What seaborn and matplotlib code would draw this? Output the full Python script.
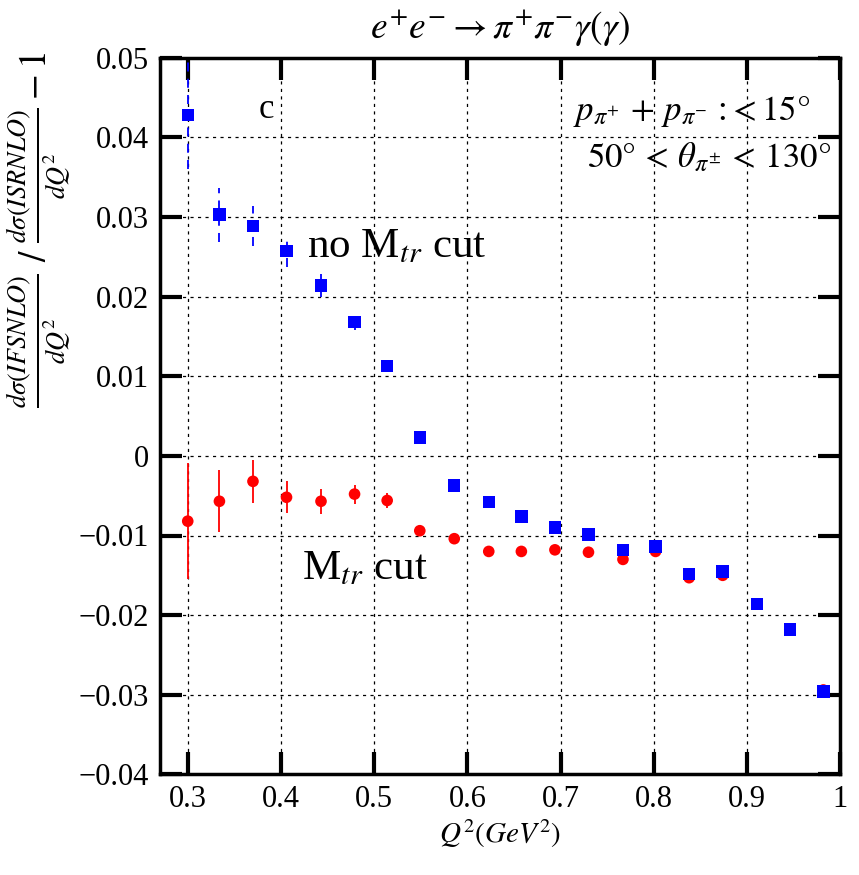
import numpy as np
import pandas as pd
import matplotlib
matplotlib.use("Agg")
import matplotlib.pyplot as plt
import seaborn as sns

# ---- data ----
q2 = [0.300, 0.334, 0.370, 0.406, 0.443, 0.479, 0.514, 0.549, 0.586, 0.623,
      0.658, 0.694, 0.730, 0.767, 0.802, 0.838, 0.874, 0.911, 0.946, 0.982]
nocut_val = [0.0428, 0.0303, 0.0289, 0.0257, 0.0214, 0.0168, 0.0113, 0.0023, -0.0037, -0.0058,
             -0.0076, -0.0090, -0.0099, -0.0118, -0.0114, -0.0148, -0.0145, -0.0186, -0.0218, -0.0296]
nocut_err = [0.0068, 0.0034, 0.0025, 0.0020, 0.0014, 0.0010, 0.0006, 0.0005, 0.0004, 0.0004,
             0.0004, 0.0004, 0.0004, 0.0005, 0.0005, 0.0005, 0.0006, 0.0005, 0.0005, 0.0004]
cut_val = [-0.0082, -0.0057, -0.0032, -0.0052, -0.0057, -0.0048, -0.0056, -0.0094, -0.0104, -0.0120,
           -0.0120, -0.0118, -0.0121, -0.0130, -0.0120, -0.0153, -0.0150, -0.0186, -0.0218, -0.0294]
cut_err = [0.0073, 0.0039, 0.0027, 0.0020, 0.0016, 0.0012, 0.0010, 0.0006, 0.0005, 0.0005,
           0.0005, 0.0005, 0.0005, 0.0005, 0.0005, 0.0006, 0.0006, 0.0005, 0.0005, 0.0004]

x_ticks = [0.3, 0.4, 0.5, 0.6, 0.7, 0.8, 0.9, 1.0]
x_ticklabels = ["0.3", "0.4", "0.5", "0.6", "0.7", "0.8", "0.9", "1"]
y_ticks = [-0.04, -0.03, -0.02, -0.01, 0.0, 0.01, 0.02, 0.03, 0.04, 0.05]
y_ticklabels = ["\u22120.04", "\u22120.03", "\u22120.02", "\u22120.01", "0", "0.01", "0.02", "0.03", "0.04", "0.05"]

df_nocut = pd.DataFrame({"q2": q2, "val": nocut_val, "err": nocut_err})
df_cut = pd.DataFrame({"q2": q2, "val": cut_val, "err": cut_err})

sns.set_style("ticks")
plt.rcParams["font.family"] = ["Liberation Serif", "DejaVu Serif"]
plt.rcParams["mathtext.fontset"] = "stix"
for k in ["text.color", "axes.labelcolor", "xtick.color", "ytick.color", "axes.edgecolor"]:
    plt.rcParams[k] = "black"

fig = plt.figure(figsize=(8.59, 8.75), dpi=100)
ax = fig.add_axes([0.186, 0.115, 0.792, 0.819])

# red (M_tr cut)
ax.errorbar(df_cut["q2"], df_cut["val"], yerr=df_cut["err"], fmt="none",
            ecolor="red", elinewidth=1.3, capsize=0, zorder=3)
sns.scatterplot(data=df_cut, x="q2", y="val", ax=ax, marker="o", color="red",
                s=70, edgecolor="none", zorder=4, legend=False)

# blue (no M_tr cut)
eb = ax.errorbar(df_nocut["q2"], df_nocut["val"], yerr=df_nocut["err"], fmt="none",
                 ecolor="blue", elinewidth=1.3, capsize=0, zorder=5)
eb[2][0].set_linestyle((0, (5, 4)))
sns.scatterplot(data=df_nocut, x="q2", y="val", ax=ax, marker="s", color="blue",
                s=80, edgecolor="none", zorder=6, legend=False)

ax.set_xlim(0.27, 1.0)
ax.set_ylim(-0.04, 0.05)
ax.set_xticks(x_ticks)
ax.set_xticklabels(x_ticklabels)
ax.set_yticks(y_ticks)
ax.set_yticklabels(y_ticklabels)

ax.grid(True, color="black", linestyle=(0, (2.5, 3.5)), linewidth=0.9)
ax.tick_params(direction="in", length=16, width=3, top=True, right=True,
               labelsize=22, pad=8, colors="black")
for sp in ax.spines.values():
    sp.set_linewidth(2.5)
    sp.set_color("black")
    sp.set_visible(True)

ax.set_xlabel(r"$Q^2(GeV^2)$", fontsize=21, labelpad=2)
ax.set_ylabel(r"$\frac{d\sigma(IFSNLO)}{dQ^2}\ /\ \frac{d\sigma(ISRNLO)}{dQ^2}-1$",
              fontsize=27)
ax.yaxis.set_label_coords(-0.128, 0.76)
ax.set_title(r"$e^{+}e^{-}\rightarrow\pi^{+}\pi^{-}\gamma(\gamma)$", fontsize=27, pad=14)

ax.text(0.376, 0.0435, "c", fontsize=25, ha="left", va="center")
ax.text(0.428, 0.0262, r"no M$_{tr}$ cut", fontsize=31, ha="left", va="center")
ax.text(0.423, -0.0142, r"M$_{tr}$ cut", fontsize=31, ha="left", va="center")
ax.text(0.968, 0.0433, r"$p_{\pi^{+}}\,+\,p_{\pi^{-}}$ :$<15°$", fontsize=25,
        ha="right", va="center")
ax.text(0.99, 0.0373, r"$50°\,<\,\theta_{\pi^{\pm}}\,<\,130°$", fontsize=25,
        ha="right", va="center")

fig.savefig("out.png", dpi=100)
